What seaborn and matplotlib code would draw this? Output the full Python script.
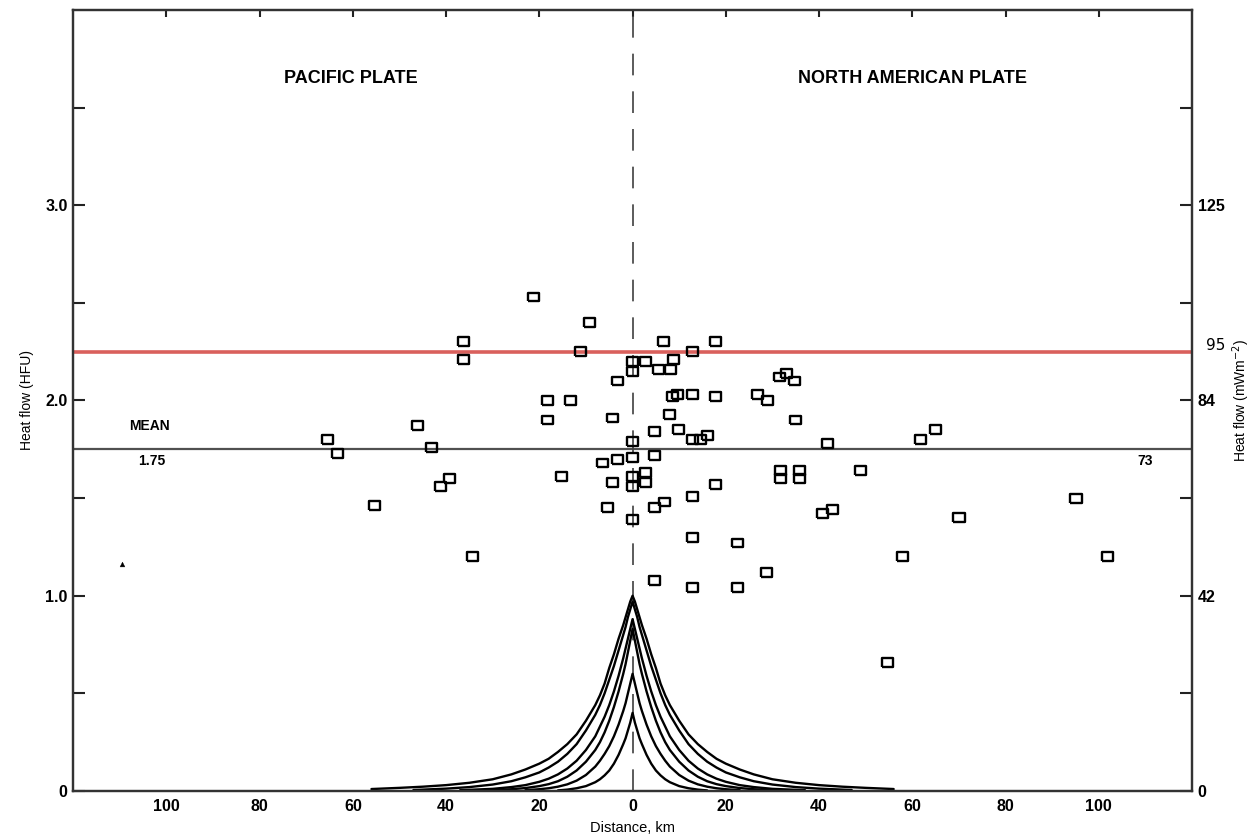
import matplotlib
matplotlib.use("Agg")
import matplotlib.pyplot as plt
import pandas as pd
import seaborn as sns

sns.set_theme(style="white")
plt.rcParams['font.family'] = ['Liberation Sans', 'DejaVu Sans']
plt.rcParams['text.color'] = 'black'
plt.rcParams['axes.labelcolor'] = 'black'

# heat flow stations: distance from the fault (km, Pacific side negative) and heat flow (HFU)
dist_km = [-65.4, -63.3, -55.4, -46.1, -43.1, -41.2, -39.3, -36.3, -36.3, -34.3,
           -21.2, -18.2, -18.2, -15.2, -13.3, -11.2, -9.2, -6.4, -5.4, -4.3,
           -4.3, -3.2, -3.2,
           0.0, 0.0, 0.0, 0.0, 0.0, 0.0, 0.0,
           2.8, 2.8, 2.8, 4.7, 4.7, 4.7, 4.7, 5.6, 6.6, 6.9,
           7.9, 8.2, 8.8, 8.6, 9.7, 9.9, 12.9, 12.9, 12.9, 12.9,
           12.9, 12.9, 14.5, 16.1, 17.8, 17.8, 17.8, 22.5, 22.5, 26.8,
           28.8, 29.0, 31.5, 33.0, 34.8, 35.0, 31.8, 31.8, 35.8, 35.8,
           41.8, 40.8, 42.9, 48.9, 54.7, 57.9, 61.8, 65.0, 70.0, 95.1,
           101.9]
heat_hfu = [1.80, 1.73, 1.46, 1.87, 1.76, 1.56, 1.60, 2.30, 2.21, 1.20,
            2.53, 2.00, 1.90, 1.61, 2.00, 2.25, 2.40, 1.68, 1.45, 1.91,
            1.58, 2.10, 1.70,
            2.20, 2.15, 1.79, 1.71, 1.61, 1.56, 1.39,
            2.20, 1.63, 1.58, 1.84, 1.72, 1.45, 1.08, 2.16, 2.30, 1.48,
            1.93, 2.16, 2.21, 2.02, 2.03, 1.85, 2.25, 2.03, 1.80, 1.51,
            1.30, 1.04, 1.80, 1.82, 2.30, 2.02, 1.57, 1.27, 1.04, 2.03,
            1.12, 2.00, 2.12, 2.14, 2.10, 1.90, 1.64, 1.60, 1.64, 1.60,
            1.78, 1.42, 1.44, 1.64, 0.66, 1.20, 1.80, 1.85, 1.40, 1.50,
            1.20]

# stray mark on the scan
speck_km = [-109.6]
speck_hfu = [1.16]

mean_hfu = 1.75
red_hfu = 2.25

# model anomaly curves, half profiles (symmetric about the fault)
curve_names = ['a', 'b', 'c', 'd', 'e', 'f']
curve_x = [
    [0, 0.5, 1, 1.5, 2, 3, 4, 5, 6, 7, 8, 10, 12, 14, 16, 18, 20, 23, 26, 30, 35, 40, 45, 50, 56],
    [0, 0.5, 1, 1.5, 2, 3, 4, 5, 6, 7, 8, 10, 12, 14, 16, 18, 20, 23, 26, 30, 35, 40, 47],
    [0, 0.5, 1, 1.5, 2, 3, 4, 5, 6, 7, 8, 10, 12, 14, 16, 18, 20, 23, 26, 30, 37],
    [0, 0.5, 1, 1.5, 2, 3, 4, 5, 6, 7, 8, 10, 12, 14, 16, 18, 20, 23, 26, 30],
    [0, 0.5, 1, 1.5, 2, 3, 4, 5, 6, 7, 8, 10, 12, 14, 16, 18, 20, 23],
    [0, 0.5, 1, 1.5, 2, 3, 4, 5, 6, 7, 8, 10, 12, 14, 16],
]
curve_q = [
    [1.00, 0.97, 0.93, 0.89, 0.85, 0.78, 0.70, 0.63, 0.55, 0.49, 0.44, 0.36, 0.29,
     0.24, 0.20, 0.165, 0.14, 0.11, 0.085, 0.06, 0.042, 0.03, 0.022, 0.016, 0.01],
    [0.97, 0.93, 0.89, 0.84, 0.80, 0.72, 0.64, 0.57, 0.50, 0.44, 0.39, 0.31, 0.24,
     0.19, 0.15, 0.12, 0.095, 0.07, 0.05, 0.033, 0.02, 0.012, 0.005],
    [0.88, 0.83, 0.78, 0.73, 0.68, 0.59, 0.51, 0.44, 0.38, 0.33, 0.28, 0.21, 0.155,
     0.115, 0.085, 0.063, 0.047, 0.03, 0.02, 0.011, 0.004],
    [0.83, 0.77, 0.71, 0.65, 0.60, 0.51, 0.43, 0.36, 0.30, 0.25, 0.21, 0.15, 0.105,
     0.073, 0.05, 0.035, 0.025, 0.015, 0.009, 0.004],
    [0.60, 0.55, 0.50, 0.45, 0.41, 0.34, 0.28, 0.23, 0.19, 0.155, 0.125, 0.082, 0.053,
     0.034, 0.022, 0.014, 0.009, 0.004],
    [0.40, 0.35, 0.31, 0.27, 0.24, 0.185, 0.14, 0.105, 0.08, 0.06, 0.045, 0.025, 0.014,
     0.007, 0.003],
]

x_ticks = [-100, -80, -60, -40, -20, 0, 20, 40, 60, 80, 100]
y_ticks = [0, 0.5, 1.0, 1.5, 2.0, 2.5, 3.0, 3.5]
left_labels = ['0', '', '1.0', '', '2.0', '', '3.0', '']
right_labels = ['0', '', '42', '', '84', '', '125', '']

rows = []
for name, xs, qs in zip(curve_names, curve_x, curve_q):
    for x, q in zip(xs, qs):
        rows.append((name, -x, q))
        rows.append((name, x, q))
curves = pd.DataFrame(rows, columns=['curve', 'dist', 'q'])

fig = plt.figure(figsize=(12.51, 8.38), dpi=100)
ax = fig.add_axes([0.0584, 0.0561, 0.8945, 0.932])

ax.axhline(mean_hfu, color='#505050', lw=1.6, zorder=1)
ax.axhline(red_hfu, color='#d9605c', lw=2.6, zorder=1)
ax.axvline(0, color='#404040', lw=1.2, ls=(0, (13, 9.6)), zorder=1)

sns.lineplot(data=curves, x='dist', y='q', units='curve', estimator=None,
             sort=True, color='black', lw=1.7, ax=ax, zorder=2)

rect = [(-1.25, -1), (1.25, -1), (1.25, 1), (-1.25, 1), (-1.25, -1)]
sns.scatterplot(x=dist_km, y=heat_hfu, marker=rect, s=64, facecolors='none',
                edgecolor='black', linewidth=1.7, ax=ax, zorder=3)
sns.scatterplot(x=speck_km, y=speck_hfu, marker='^', s=12, color='black',
                edgecolor='black', ax=ax, zorder=3)

ax.set_xlim(-120, 120)
ax.set_ylim(0, 4.0)
ax.set_xticks(x_ticks)
ax.set_xticklabels([str(abs(t)) for t in x_ticks], fontsize=11.5, fontweight='bold')
ax.set_yticks(y_ticks)
ax.set_yticklabels(left_labels, fontsize=11.5, fontweight='bold')
ax.tick_params(axis='x', direction='in', length=5, width=1.5, top=True,
               pad=6, colors='#222222', labelcolor='black')
ax.tick_params(axis='y', direction='in', length=8.5, width=1.5, pad=4,
               colors='#222222', labelcolor='black')
ax.set_xlabel('Distance, km', fontsize=10.5, labelpad=5)
ax.set_ylabel('Heat flow (HFU)', fontsize=10, labelpad=8)

ax2 = ax.twinx()
ax2.set_ylim(0, 4.0)
ax2.set_yticks(y_ticks)
ax2.set_yticklabels(right_labels, fontsize=11.5, fontweight='bold')
ax2.tick_params(axis='y', direction='in', length=8.5, width=1.5, pad=4,
                colors='#222222', labelcolor='black')
ax2.set_ylabel('Heat flow (mWm$^{-2}$)', fontsize=10, labelpad=4)

for a in (ax, ax2):
    for sp in a.spines.values():
        sp.set_color('#333333')
        sp.set_linewidth(1.6)

ax.text(-60.5, 3.65, 'PACIFIC PLATE', ha='center', va='center', fontsize=13,
        fontweight='bold', family=['Liberation Sans Narrow', 'Liberation Sans'])
ax.text(60, 3.65, 'NORTH AMERICAN PLATE', ha='center', va='center', fontsize=13,
        fontweight='bold', family=['Liberation Sans Narrow', 'Liberation Sans'])
ax.text(-103.6, 1.87, 'MEAN', ha='center', va='center', fontsize=10, fontweight='bold')
ax.text(-103.2, 1.69, '1.75', ha='center', va='center', fontsize=10, fontweight='bold')
ax.text(110, 1.69, '73', ha='center', va='center', fontsize=10, fontweight='bold')
ax.text(125, 2.28, '95', ha='center', va='center', fontsize=11,
        family=['DejaVu Sans'], clip_on=False)

fig.savefig('out.png', dpi=100)
